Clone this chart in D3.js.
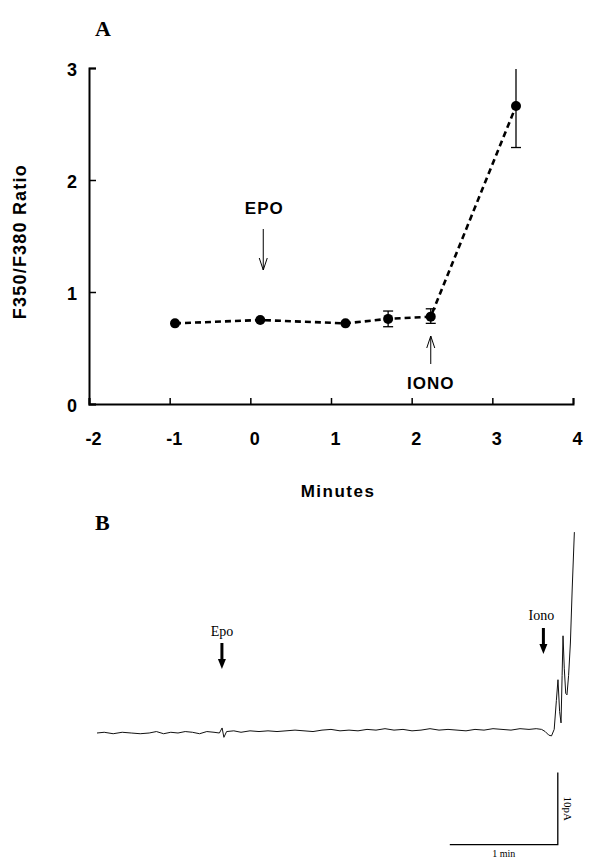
<!DOCTYPE html>
<html>
<head>
<meta charset="utf-8">
<script src="https://cdn.jsdelivr.net/npm/d3@7"></script>
<style>
  body { margin: 0; background: #fff; }
  svg { display: block; }
  .ax text { font-family: "Liberation Sans", Arial, sans-serif; font-weight: bold; font-size: 18px; fill: #000; }
</style>
</head>
<body>
<svg id="fig" width="609" height="859"></svg>
<script>
// panel A: fura-2 ratio over time
const minutes = [-1, 0, 1, 1.5, 2, 3];
const ratio = [0.72, 0.75, 0.72, 0.76, 0.78, 2.66];
const ratioErrLo = [0, 0, 0, 0.07, 0.06, 0.37];
const ratioErrHi = [0, 0, 0, 0.07, 0.07, 0.33];
const xTicks = [-2, -1, 0, 1, 2, 3, 4];
const yTicks = [0, 1, 2, 3];

// panel B: whole-cell current trace (seconds, pA)
const traceT = [0, 4, 9, 14, 19, 24, 29, 33, 37, 41, 45, 49, 53, 57, 61, 65, 68, 69.5, 70.5, 72, 76, 80, 85, 90,
  95, 100, 105, 110, 115, 120, 125, 130, 135, 140, 145, 150, 155, 160, 165, 170, 175, 180, 185, 190, 195, 200,
  205, 210, 215, 220, 225, 230, 235, 240, 244, 247, 249, 251, 252.5, 254, 255.2, 256.1, 257, 257.8, 258.4,
  258.9, 259.6, 260.4, 261.1, 262, 263, 264, 265.2];
const tracePA = [0, 0.1, -0.1, 0.1, 0, -0.1, 0, 0.2, -0.1, 0.1, 0, 0.2, 0.1, -0.1, 0.2, 0.1, 0, 0.7, -0.6, 0.2, 0.3,
  0.1, 0.3, 0.2, 0.3, 0.2, 0.3, 0.4, 0.3, 0.2, 0.4, 0.5, 0.3, 0.4, 0.3, 0.5, 0.4, 0.6, 0.4, 0.5, 0.3, 0.4, 0.6,
  0.4, 0.5, 0.4, 0.3, 0.5, 0.4, 0.6, 0.5, 0.4, 0.6, 0.5, 0.6, 0.5, 0.2, -0.3, -0.4, 0.5, 4.5, 7.4, 3.0, 1.4,
  8.0, 13.5, 9.0, 5.5, 5.3, 8.0, 12.5, 20.0, 27.9];

const svg = d3.select('#fig');
const sans = '"Liberation Sans", Arial, sans-serif';
const serif = '"Liberation Serif", "Times New Roman", serif';

// ---------- panel A ----------
const x = d3.scaleLinear().domain([-2, 4]).range([89, 573]);
// the markers sit on a slightly wider grid than the printed axis
const xPlot = d3.scaleLinear().domain([-1, 3]).range([175, 516]);
const y = d3.scaleLinear().domain([0, 3]).range([404, 68]);

svg.append('text').attr('x', 95).attr('y', 36)
  .style('font-family', serif).style('font-weight', 'bold').style('font-size', '22px').text('A');

const xAxis = svg.append('g').attr('class', 'ax')
  .attr('transform', `translate(0,${y(0)})`)
  .call(d3.axisBottom(x).tickValues(xTicks).tickSize(-6).tickFormat(d => String(d)));
const yAxis = svg.append('g').attr('class', 'ax')
  .attr('transform', `translate(${x(-2)},0)`)
  .call(d3.axisLeft(y).tickValues(yTicks).tickSize(-7).tickFormat(d => String(d)));
[xAxis, yAxis].forEach(g => {
  g.select('.domain').attr('stroke', '#000').attr('stroke-width', 2);
  g.selectAll('.tick line').attr('stroke', '#000').attr('stroke-width', 1.5);
});
yAxis.selectAll('.tick text').attr('x', -12).attr('dy', '0.4em');
xAxis.selectAll('.tick text').attr('y', 28).attr('dx', 4);

svg.append('text').attr('transform', `translate(26,${y(1.45)}) rotate(-90)`)
  .attr('text-anchor', 'middle')
  .style('font-family', sans).style('font-weight', 'bold').style('font-size', '18px')
  .style('letter-spacing', '1.2px').text('F350/F380 Ratio');

svg.append('text').attr('x', 338).attr('y', 497).attr('text-anchor', 'middle')
  .style('font-family', sans).style('font-weight', 'bold').style('font-size', '17px')
  .style('letter-spacing', '1.5px').text('Minutes');

const pts = minutes.map((m, i) => ({ m, v: ratio[i], lo: ratioErrLo[i], hi: ratioErrHi[i] }));

svg.append('path').datum(pts)
  .attr('fill', 'none').attr('stroke', '#000').attr('stroke-width', 2.6)
  .attr('stroke-dasharray', '6,4')
  .attr('d', d3.line().x(d => xPlot(d.m)).y(d => y(d.v)));

const err = svg.append('g').selectAll('g').data(pts.filter(d => d.lo > 0)).join('g');
err.append('line')
  .attr('x1', d => xPlot(d.m)).attr('x2', d => xPlot(d.m))
  .attr('y1', d => y(d.v + d.hi)).attr('y2', d => y(d.v - d.lo))
  .attr('stroke', '#000').attr('stroke-width', 1.3);
err.append('line')
  .attr('x1', d => xPlot(d.m) - 5).attr('x2', d => xPlot(d.m) + 5)
  .attr('y1', d => y(d.v - d.lo)).attr('y2', d => y(d.v - d.lo))
  .attr('stroke', '#000').attr('stroke-width', 1.3);
err.filter(d => d.hi < 0.2).append('line')
  .attr('x1', d => xPlot(d.m) - 5).attr('x2', d => xPlot(d.m) + 5)
  .attr('y1', d => y(d.v + d.hi)).attr('y2', d => y(d.v + d.hi))
  .attr('stroke', '#000').attr('stroke-width', 1.3);

svg.append('g').selectAll('circle').data(pts).join('circle')
  .attr('cx', d => xPlot(d.m)).attr('cy', d => y(d.v)).attr('r', 5).attr('fill', '#000');

// thin open-headed arrows
function thinArrow(cx, y1, y2) {
  const dir = y2 > y1 ? -1 : 1;
  svg.append('line').attr('x1', cx).attr('x2', cx).attr('y1', y1).attr('y2', y2)
    .attr('stroke', '#000').attr('stroke-width', 1);
  svg.append('path').attr('d', `M${cx - 4},${y2 + dir * 12}L${cx},${y2}L${cx + 4},${y2 + dir * 12}`)
    .attr('fill', 'none').attr('stroke', '#000').attr('stroke-width', 1);
}
thinArrow(xPlot(0) + 3, 229, 270);
thinArrow(xPlot(2), 364, 336);
svg.append('text').attr('x', xPlot(0) + 4).attr('y', 214).attr('text-anchor', 'middle')
  .style('font-family', sans).style('font-weight', 'bold').style('font-size', '17px')
  .style('letter-spacing', '1px').text('EPO');
svg.append('text').attr('x', xPlot(2)).attr('y', 389).attr('text-anchor', 'middle')
  .style('font-family', sans).style('font-weight', 'bold').style('font-size', '17px')
  .style('letter-spacing', '1px').text('IONO');

// ---------- panel B ----------
const tx = d3.scaleLinear().domain([0, 60]).range([97, 205]);
const ty = d3.scaleLinear().domain([0, 10]).range([733, 661]);

svg.append('text').attr('x', 95).attr('y', 530)
  .style('font-family', serif).style('font-weight', 'bold').style('font-size', '22px').text('B');

svg.append('path').datum(traceT.map((t, i) => [t, tracePA[i]]))
  .attr('fill', 'none').attr('stroke', '#111').attr('stroke-width', 1)
  .attr('d', d3.line().x(d => tx(d[0])).y(d => ty(d[1])));

function boldArrow(cx, top, len) {
  svg.append('line').attr('x1', cx).attr('x2', cx).attr('y1', top).attr('y2', top + len - 8)
    .attr('stroke', '#000').attr('stroke-width', 3);
  svg.append('path').attr('d', `M${cx - 4},${top + len - 10}L${cx + 4},${top + len - 10}L${cx},${top + len}Z`)
    .attr('fill', '#000');
}
boldArrow(tx(69.4), 643, 26);
svg.append('text').attr('x', tx(69.4)).attr('y', 636).attr('text-anchor', 'middle')
  .style('font-family', serif).style('font-size', '14px').text('Epo');
boldArrow(tx(248), 628, 26);
svg.append('text').attr('x', tx(248) - 2).attr('y', 620).attr('text-anchor', 'middle')
  .style('font-family', serif).style('font-size', '14px').text('Iono');

// scale bar: 1 min x 10 pA
const sbX = 256;
svg.append('path')
  .attr('d', `M${tx(sbX - 60)},${ty(-15.5)}H${tx(sbX)}V${ty(-5.5)}`)
  .attr('fill', 'none').attr('stroke', '#000').attr('stroke-width', 1.3);
svg.append('text').attr('transform', `translate(${tx(sbX) + 6},${ty(-10.5)}) rotate(90)`)
  .attr('text-anchor', 'middle')
  .style('font-family', serif).style('font-size', '11px').text('10pA');
svg.append('text').attr('x', tx(sbX - 30)).attr('y', 857).attr('text-anchor', 'middle')
  .style('font-family', serif).style('font-size', '10px').text('1 min');
</script>
</body>
</html>
